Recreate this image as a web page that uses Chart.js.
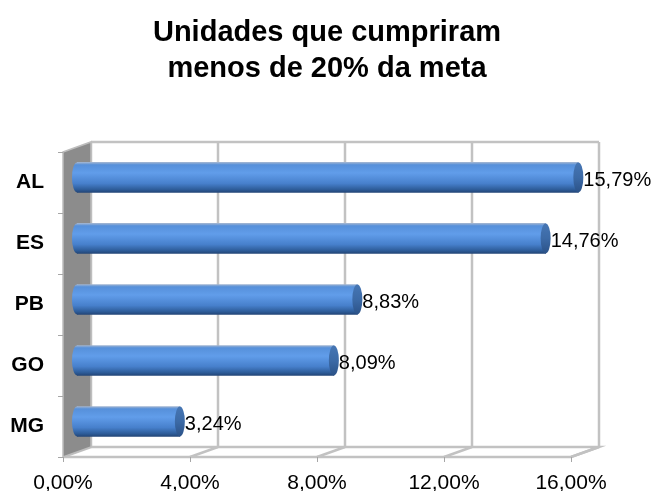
<!DOCTYPE html>
<html>
<head>
<meta charset="utf-8">
<script src="https://cdn.jsdelivr.net/npm/chart.js@4.4.0/dist/chart.umd.min.js"></script>
<style>
  html, body { margin: 0; padding: 0; background: #fff; }
  #wrap { width: 654px; height: 491px; }
</style>
</head>
<body>
<div id="wrap"><canvas id="myBarChart"></canvas></div>
<script>
// Data
const categories = ['AL', 'ES', 'PB', 'GO', 'MG'];
const values = [15.79, 14.76, 8.83, 8.09, 3.24];
const xTicks = [0, 4, 8, 12, 16];
const titleLines = ['Unidades que cumpriram', 'menos de 20% da meta'];

const FONT = "'Liberation Sans', Arial, sans-serif";
const DX = 28, DY = -10;   // depth of the 3D box
const BAR_H = 30;

function pct(v) {
  return v.toFixed(2).replace('.', ',') + '%';
}

function barGradient(ctx, yc, h) {
  const g = ctx.createLinearGradient(0, yc - h / 2, 0, yc + h / 2);
  g.addColorStop(0, '#9db3d2');
  g.addColorStop(0.08, '#5690da');
  g.addColorStop(0.35, '#619dea');
  g.addColorStop(0.7, '#4780cc');
  g.addColorStop(0.9, '#2e5d9a');
  g.addColorStop(1, '#234678');
  return g;
}

// walls, floor, grid, then shift bars to mid depth
const box3d = {
  id: 'box3d',
  beforeDatasetsDraw(chart) {
    const ctx = chart.ctx;
    const a = chart.chartArea;
    const xs = chart.scales.x;
    ctx.save();
    ctx.lineWidth = 2.5;
    ctx.strokeStyle = '#c2c2c2';
    // back wall grid lines
    xTicks.forEach(v => {
      const x = xs.getPixelForValue(v) + DX;
      ctx.beginPath();
      ctx.moveTo(x, a.top + DY);
      ctx.lineTo(x, a.bottom + DY);
      ctx.stroke();
    });
    // back wall top edge
    ctx.beginPath();
    ctx.moveTo(a.left + DX, a.top + DY);
    ctx.lineTo(xs.getPixelForValue(16) + DX, a.top + DY);
    ctx.stroke();
    // floor
    ctx.beginPath();
    ctx.moveTo(a.left + DX, a.bottom + DY);
    ctx.lineTo(a.right + DX, a.bottom + DY);
    ctx.lineTo(a.right, a.bottom);
    ctx.lineTo(a.left, a.bottom);
    ctx.stroke();
    xTicks.forEach(v => {
      const x = xs.getPixelForValue(v);
      ctx.beginPath();
      ctx.moveTo(x, a.bottom);
      ctx.lineTo(x + DX, a.bottom + DY);
      ctx.stroke();
    });
    // left wall
    ctx.beginPath();
    ctx.moveTo(a.left, a.top);
    ctx.lineTo(a.left + DX, a.top + DY);
    ctx.lineTo(a.left + DX, a.bottom + DY);
    ctx.lineTo(a.left, a.bottom);
    ctx.closePath();
    ctx.fillStyle = '#8c8c8c';
    ctx.fill();
    ctx.lineWidth = 1.5;
    ctx.strokeStyle = '#bdbdbd';
    ctx.stroke();
    // tick marks
    ctx.lineWidth = 1;
    ctx.strokeStyle = '#a6a6a6';
    const band = (a.bottom - a.top) / categories.length;
    for (let i = 0; i <= categories.length; i++) {
      const y = Math.round(a.top + i * band) + 0.5;
      ctx.beginPath();
      ctx.moveTo(a.left - 5, y);
      ctx.lineTo(a.left, y);
      ctx.stroke();
    }
    xTicks.forEach(v => {
      const x = Math.round(xs.getPixelForValue(v)) + 0.5;
      ctx.beginPath();
      ctx.moveTo(x, a.bottom);
      ctx.lineTo(x, a.bottom + 5);
      ctx.stroke();
    });
    ctx.restore();

    // bars sit half way into the box
    ctx.save();
    ctx.translate(DX / 2, DY / 2);
    chart.getDatasetMeta(0).data.forEach(bar => {
      ctx.beginPath();
      ctx.ellipse(bar.base, bar.y, 5, bar.height / 2, 0, 0, Math.PI * 2);
      ctx.fillStyle = barGradient(ctx, bar.y, bar.height);
      ctx.fill();
    });
  },
  afterDatasetsDraw(chart) {
    const ctx = chart.ctx;
    chart.getDatasetMeta(0).data.forEach((bar, i) => {
      ctx.beginPath();
      ctx.ellipse(bar.x, bar.y, 5, bar.height / 2, 0, 0, Math.PI * 2);
      const g = ctx.createLinearGradient(0, bar.y - bar.height / 2, 0, bar.y + bar.height / 2);
      g.addColorStop(0, '#4676b4');
      g.addColorStop(0.5, '#3c6aa6');
      g.addColorStop(1, '#2b5288');
      ctx.fillStyle = g;
      ctx.fill();
      ctx.fillStyle = '#000';
      ctx.font = '20px ' + FONT;
      ctx.textAlign = 'left';
      ctx.textBaseline = 'middle';
      ctx.fillText(pct(values[i]), bar.x + 5, bar.y + 3);
    });
    ctx.restore();
  }
};

document.addEventListener('DOMContentLoaded', function () {
  const ctx = document.getElementById('myBarChart').getContext('2d');
  const myChart = new Chart(ctx, {
    type: 'bar',
    data: {
      labels: categories,
      datasets: [{
        data: values,
        backgroundColor: function (c) {
          const chart = c.chart;
          if (!chart.chartArea || c.dataIndex === undefined) return '#4f8ad8';
          const yc = chart.scales.y.getPixelForValue(c.dataIndex);
          return barGradient(chart.ctx, yc, BAR_H);
        },
        borderWidth: 0,
        barThickness: BAR_H
      }]
    },
    options: {
      indexAxis: 'y',
      responsive: true,
      maintainAspectRatio: false,
      animation: false,
      layout: { padding: 0 },
      plugins: {
        legend: { display: false },
        tooltip: { enabled: false },
        title: {
          display: true,
          text: titleLines,
          color: '#000',
          font: { family: FONT, size: 29, weight: 'bold', lineHeight: 1.24 },
          padding: { top: 15, bottom: 65 }
        }
      },
      scales: {
        x: {
          min: 0,
          max: 16,
          afterBuildTicks: s => { s.ticks = xTicks.map(v => ({ value: v })); },
          afterFit: s => { s.height = 34; },
          grid: { display: false },
          border: { display: false },
          ticks: {
            color: '#000',
            padding: 6,
            maxRotation: 0,
            font: { family: FONT, size: 21 },
            callback: v => pct(v)
          }
        },
        y: {
          afterFit: s => { s.width = 63; },
          grid: { display: false },
          border: { display: false },
          ticks: {
            color: '#000',
            padding: 11,
            font: { family: FONT, size: 21, weight: 'bold' }
          }
        },
        y2: {
          type: 'category',
          position: 'right',
          afterFit: s => { s.width = 83; },
          grid: { display: false },
          border: { display: false },
          ticks: { display: false }
        }
      }
    },
    plugins: [box3d]
  });
});
</script>
</body>
</html>
